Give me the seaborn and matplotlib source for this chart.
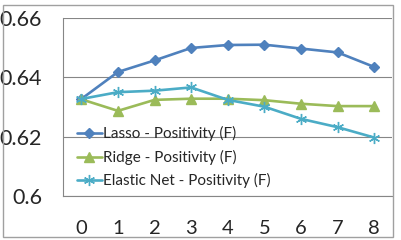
import numpy as np
import pandas as pd
import seaborn as sns
import matplotlib.pyplot as plt
from matplotlib.patches import Rectangle

sns.set_style('white')
plt.rcParams['font.family'] = ['Lato', 'DejaVu Sans']

steps = [0, 1, 2, 3, 4, 5, 6, 7, 8]
lasso = [0.6327, 0.6418, 0.6457, 0.6499, 0.6509, 0.6510, 0.6497, 0.6484, 0.6435]
ridge = [0.6326, 0.6287, 0.6324, 0.6328, 0.6328, 0.6323, 0.6311, 0.6303, 0.6303]
enet = [0.6327, 0.6350, 0.6355, 0.6366, 0.6324, 0.6301, 0.6260, 0.6232, 0.6197]
names = ['Lasso - Positivity (F)', 'Ridge - Positivity (F)', 'Elastic Net - Positivity (F)']
colors = ['#4F81BD', '#9BBB59', '#4BACC6']
markers = ['D', '^', (6, 2, 0)]
msizes = [5, 6.5, 8]

fig = plt.figure(figsize=(4.02, 2.40), dpi=100)
ax = fig.add_axes([63 / 402, 1 - 196 / 240, (392.5 - 63) / 402, (196 - 18) / 240])

for vals, nm, c, m, ms in zip([lasso, ridge, enet], names, colors, markers, msizes):
    df = pd.DataFrame({'step': steps, 'value': vals})
    sns.lineplot(data=df, x='step', y='value', color=c, marker=m, markersize=ms,
                 markeredgecolor=c, markeredgewidth=1.0, linewidth=1.9, label=nm, ax=ax)

ax.set_xlim(-0.5, 8.5)
ax.set_ylim(0.6, 0.66)
ax.set_yticks([0.6, 0.62, 0.64, 0.66])
ax.set_yticklabels(['0.6', '0.62', '0.64', '0.66'])
ax.set_xticks(steps)
ax.set_xticklabels([str(s) for s in steps])
ax.set_xticks(np.arange(-0.5, 9, 1), minor=True)
ax.tick_params(axis='x', which='major', length=0, labelsize=14.5, pad=17)
ax.tick_params(axis='x', which='minor', length=5, width=0.8, color='#868686', direction='out')
ax.tick_params(axis='y', length=6, width=0.8, color='#868686', direction='out', labelsize=15.5, pad=9)
ax.set_xlabel('')
ax.set_ylabel('')
ax.grid(axis='y', color='#868686', linewidth=0.8)
ax.set_axisbelow(True)
for s in ['top', 'right']:
    ax.spines[s].set_visible(False)
for s in ['left', 'bottom']:
    ax.spines[s].set_color('#868686')
    ax.spines[s].set_linewidth(0.8)

leg = ax.legend(loc='lower left', bbox_to_anchor=(0.02, 0.0), frameon=False,
                fontsize=11, handlelength=1.6, handletextpad=0.1, labelspacing=0.55,
                borderaxespad=0.1)

fig.patches.append(Rectangle((3 / 402, 1 - 237 / 240), 390 / 402, 232 / 240,
                             transform=fig.transFigure, fill=False,
                             edgecolor='#A0A0A0', linewidth=1.0))

fig.savefig('out.png', dpi=100)
